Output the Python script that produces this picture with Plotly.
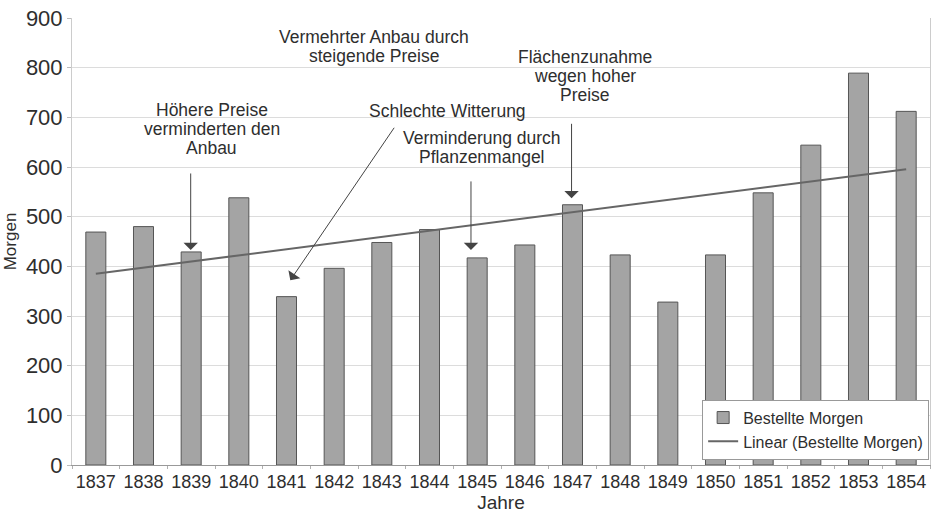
import numpy as np
import plotly.graph_objects as go

# Bestellte Morgen per year
years = [1837, 1838, 1839, 1840, 1841, 1842, 1843, 1844, 1845,
         1846, 1847, 1848, 1849, 1850, 1851, 1852, 1853, 1854]
morgen = [469, 480, 429, 538, 339, 396, 448, 474, 417,
          443, 524, 423, 328, 423, 548, 644, 789, 712]
y_ticks = [0, 100, 200, 300, 400, 500, 600, 700, 800, 900]

# Text notes: (lines, x centre in years, y of first line)
notes = [
    (["Höhere Preise", "verminderten den", "Anbau"], 1839.43, 714),
    (["Vermehrter Anbau durch", "steigende Preise"], 1842.84, 862),
    (["Schlechte Witterung"], 1844.38, 713),
    (["Verminderung durch", "Pflanzenmangel"], 1845.10, 658),
    (["Flächenzunahme", "wegen hoher", "Preise"], 1847.27, 821),
]
# Arrows: (tail x, tail y, head x, head y), x in years
arrows = [
    (1838.99, 590, 1838.99, 433),
    (1843.28, 682, 1841.08, 372),
    (1844.87, 574, 1844.87, 433),
    (1846.98, 690, 1846.98, 537),
]

# Linear trend through the yearly values
slope, intercept = np.polyfit(years, morgen, 1)
trend = [slope * y + intercept for y in years]

labels = [str(y) for y in years]


def pos(year):
    # position on the category axis (index of the year)
    return year - years[0]


FONT = "Liberation Sans, Arial, sans-serif"
TXT = "#2e2e2e"

fig = go.Figure()
fig.add_trace(go.Bar(
    x=labels, y=morgen, width=0.42, name="Bestellte Morgen",
    marker=dict(color="#a4a4a4", line=dict(color="#555555", width=1)),
))
fig.add_trace(go.Scatter(
    x=labels, y=trend, mode="lines", name="Linear (Bestellte Morgen)",
    line=dict(color="#666666", width=2),
))

annotations = []
for lines, xc, ytop in notes:
    for i, line in enumerate(lines):
        annotations.append(dict(
            x=pos(xc), y=ytop, xref="x", yref="y", text=line, showarrow=False,
            yshift=-19 * i, xanchor="center", yanchor="middle",
            font=dict(family=FONT, size=17.5, color=TXT),
        ))
for tx, ty, hx, hy in arrows:
    annotations.append(dict(
        x=pos(hx), y=hy, ax=pos(tx), ay=ty, xref="x", yref="y",
        axref="x", ayref="y",
        text="", showarrow=True, arrowhead=1, arrowsize=2.4, arrowwidth=1,
        arrowcolor="#444444", standoff=0, startstandoff=0,
    ))

fig.update_layout(
    width=937, height=517,
    margin=dict(l=72, r=7, t=18, b=52),
    paper_bgcolor="white", plot_bgcolor="white",
    font=dict(family=FONT, color=TXT),
    showlegend=True,
    legend=dict(
        x=0.999, y=0.012, xanchor="right", yanchor="bottom",
        bgcolor="white", bordercolor="#999999", borderwidth=1,
        font=dict(family=FONT, size=16, color=TXT),
        tracegroupgap=0, itemwidth=30,
    ),
    annotations=annotations,
    xaxis=dict(
        type="category", range=[-0.5, len(years) - 0.5],
        tickangle=0, automargin=False,
        tickfont=dict(family=FONT, size=18, color=TXT),
        showgrid=False, showline=True, linecolor="#999999", linewidth=1,
        ticks="outside", tickson="boundaries", ticklen=3, tickwidth=1,
        tickcolor="#b0b0b0",
        title=dict(text="Jahre", font=dict(family=FONT, size=19, color=TXT),
                   standoff=4),
    ),
    yaxis=dict(
        range=[0, 900], tickvals=y_ticks, automargin=False,
        tickfont=dict(family=FONT, size=22, color=TXT),
        showgrid=True, gridcolor="#dcdcdc", gridwidth=1,
        showline=True, linecolor="#cccccc", linewidth=1, mirror=True,
        ticks="outside", ticklen=4, tickcolor="#bbbbbb",
        title=dict(text="Morgen", font=dict(family=FONT, size=17, color=TXT),
                   standoff=4),
        zeroline=False,
    ),
)

fig.write_html("out.html")
